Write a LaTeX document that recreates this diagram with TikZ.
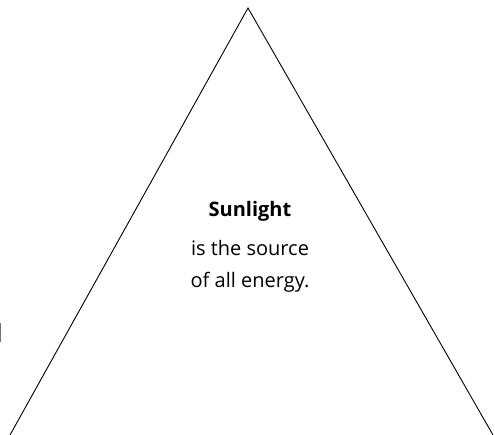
\documentclass[tikz,border=0pt]{standalone}
\usepackage{fontspec}
\setmainfont{Open Sans}
\usetikzlibrary{positioning}

\begin{document}
\begin{tikzpicture}[x=1pt,y=1pt]
        \useasboundingbox (0,0) rectangle (495,435);

        % Sommets
        \coordinate (A) at (248,427);
        \coordinate (B) at (10,0);
        \coordinate (C) at (493,0);

        % Triangle
        \draw[line width=0.9pt] (B) -- (A) -- (C);
        \draw[black!12] (B) -- (C);

        % Marque
        \draw[black!55, line width=1.2pt] (0.6,93) -- (0.6,112);

        % Texte
        \node[font=\fontsize{20}{24}\selectfont\bfseries] (titre) at (250,224) {Sunlight};
        \node[font=\fontsize{20}{24}\selectfont, below=12pt of titre] (ligne1) {is the source};
        \node[font=\fontsize{20}{24}\selectfont, below=10pt of ligne1] (ligne2) {of all energy.};
    \end{tikzpicture}
\end{document}
